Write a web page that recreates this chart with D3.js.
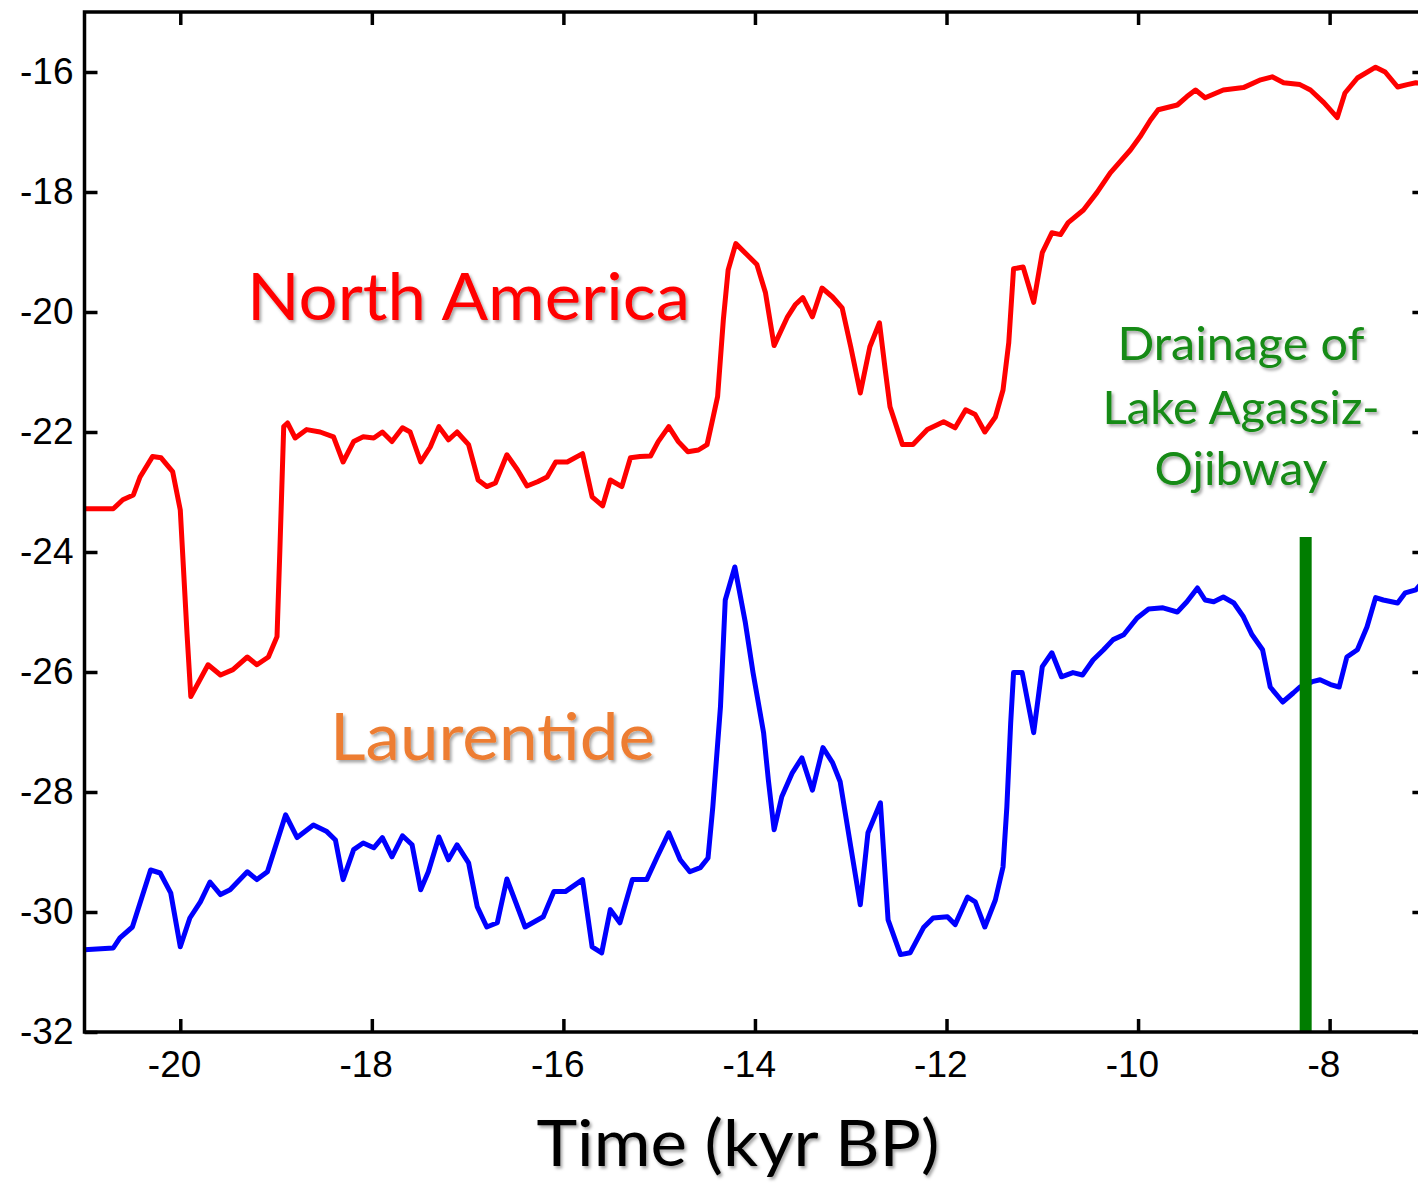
<!DOCTYPE html>
<html>
<head>
<meta charset="utf-8">
<script src="https://cdn.jsdelivr.net/npm/d3@7"></script>
<style>
  body { margin: 0; background: #fff; }
  .tick text { font-family: "Liberation Sans", Arial, sans-serif; font-size: 37px; fill: #000; }
  .axis line { stroke: #000; stroke-width: 3.5; }
  .axis path { display: none; }
  .line { fill: none; stroke-width: 5; stroke-linejoin: round; }
  .label { font-family: Lato, "Open Sans", sans-serif; }
</style>
</head>
<body>
<svg id="chart"></svg>
<script>
// time axis in kyr BP
var naTime=[-21.0,-20.7,-20.6,-20.49,-20.42,-20.29,-20.2,-20.08,-20.0,-19.93,-19.89,-19.71,-19.58,-19.45,-19.3,-19.2,-19.08,-18.99,-18.96,-18.92,-18.88,-18.8,-18.68,-18.54,-18.4,-18.3,-18.19,-18.09,-17.98,-17.89,-17.79,-17.68,-17.6,-17.49,-17.39,-17.3,-17.2,-17.11,-16.99,-16.89,-16.8,-16.71,-16.59,-16.48,-16.38,-16.27,-16.17,-16.08,-15.96,-15.8,-15.7,-15.59,-15.51,-15.39,-15.3,-15.2,-15.09,-15.01,-14.9,-14.8,-14.7,-14.59,-14.5,-14.45,-14.39,-14.33,-14.28,-14.2,-14.08,-13.98,-13.89,-13.8,-13.66,-13.58,-13.5,-13.4,-13.3,-13.19,-13.09,-13.0,-12.9,-12.8,-12.7,-12.64,-12.59,-12.46,-12.35,-12.2,-12.03,-11.91,-11.8,-11.7,-11.6,-11.49,-11.41,-11.35,-11.3,-11.2,-11.09,-11.0,-10.9,-10.81,-10.73,-10.57,-10.43,-10.29,-10.08,-9.98,-9.87,-9.79,-9.59,-9.49,-9.4,-9.3,-9.11,-8.9,-8.72,-8.6,-8.48,-8.31,-8.2,-8.06,-7.92,-7.84,-7.71,-7.52,-7.42,-7.29,-7.19,-7.1,-7.0];
var naValue=[-23.28,-23.28,-23.13,-23.05,-22.75,-22.41,-22.43,-22.66,-23.3,-25.35,-26.41,-25.88,-26.05,-25.96,-25.75,-25.88,-25.75,-25.41,-23.96,-21.91,-21.85,-22.1,-21.96,-22.0,-22.08,-22.5,-22.16,-22.08,-22.1,-22.0,-22.16,-21.93,-22.0,-22.5,-22.25,-21.91,-22.13,-22.0,-22.21,-22.8,-22.91,-22.85,-22.38,-22.63,-22.9,-22.83,-22.75,-22.5,-22.5,-22.36,-23.08,-23.23,-22.8,-22.91,-22.43,-22.41,-22.4,-22.16,-21.91,-22.16,-22.33,-22.3,-22.21,-21.85,-21.41,-20.13,-19.3,-18.86,-19.05,-19.21,-19.68,-20.56,-20.08,-19.88,-19.76,-20.08,-19.6,-19.75,-19.93,-20.58,-21.35,-20.58,-20.18,-20.96,-21.58,-22.21,-22.21,-21.96,-21.83,-21.93,-21.63,-21.71,-22.0,-21.75,-21.3,-20.51,-19.28,-19.25,-19.84,-19.01,-18.68,-18.71,-18.51,-18.3,-18.01,-17.68,-17.3,-17.08,-16.8,-16.63,-16.55,-16.41,-16.3,-16.43,-16.3,-16.26,-16.13,-16.08,-16.18,-16.21,-16.3,-16.51,-16.76,-16.35,-16.1,-15.92,-16.0,-16.25,-16.21,-16.18,-16.2];

var ltTime=[-21.0,-20.7,-20.63,-20.5,-20.31,-20.21,-20.1,-20.0,-19.9,-19.79,-19.69,-19.58,-19.48,-19.3,-19.2,-19.09,-18.9,-18.78,-18.61,-18.47,-18.38,-18.3,-18.19,-18.09,-17.98,-17.89,-17.79,-17.68,-17.58,-17.49,-17.41,-17.3,-17.2,-17.11,-16.99,-16.9,-16.8,-16.69,-16.59,-16.4,-16.21,-16.1,-15.98,-15.8,-15.7,-15.6,-15.51,-15.41,-15.28,-15.13,-15.02,-14.9,-14.78,-14.68,-14.57,-14.49,-14.44,-14.36,-14.31,-14.21,-14.1,-14.02,-13.91,-13.86,-13.8,-13.72,-13.61,-13.51,-13.4,-13.29,-13.19,-13.11,-13.0,-12.9,-12.82,-12.69,-12.61,-12.48,-12.38,-12.24,-12.14,-11.99,-11.91,-11.78,-11.7,-11.6,-11.49,-11.41,-11.37,-11.33,-11.3,-11.21,-11.09,-11.0,-10.9,-10.8,-10.68,-10.58,-10.47,-10.36,-10.26,-10.15,-10.01,-9.89,-9.74,-9.59,-9.49,-9.38,-9.3,-9.21,-9.11,-9.0,-8.9,-8.81,-8.7,-8.62,-8.49,-8.38,-8.31,-8.18,-8.1,-7.99,-7.9,-7.82,-7.71,-7.61,-7.52,-7.44,-7.29,-7.21,-7.1,-7.0];
var ltValue=[-30.63,-30.6,-30.43,-30.25,-29.3,-29.35,-29.68,-30.58,-30.1,-29.83,-29.5,-29.71,-29.63,-29.33,-29.46,-29.33,-28.38,-28.76,-28.55,-28.66,-28.8,-29.46,-28.96,-28.85,-28.93,-28.76,-29.08,-28.73,-28.88,-29.63,-29.33,-28.75,-29.13,-28.88,-29.18,-29.91,-30.25,-30.18,-29.45,-30.25,-30.08,-29.66,-29.66,-29.46,-30.58,-30.68,-29.96,-30.18,-29.46,-29.46,-29.08,-28.68,-29.13,-29.33,-29.26,-29.1,-28.25,-26.58,-24.8,-24.25,-25.18,-26.01,-27.01,-27.8,-28.63,-28.08,-27.68,-27.43,-27.97,-27.26,-27.51,-27.83,-28.91,-29.88,-28.68,-28.18,-30.13,-30.71,-30.68,-30.26,-30.1,-30.08,-30.21,-29.75,-29.83,-30.25,-29.8,-29.25,-28.25,-26.85,-26.01,-26.01,-27.01,-25.91,-25.68,-26.08,-26.01,-26.05,-25.8,-25.63,-25.46,-25.38,-25.1,-24.95,-24.93,-25.0,-24.83,-24.6,-24.8,-24.83,-24.75,-24.85,-25.08,-25.38,-25.63,-26.25,-26.5,-26.35,-26.25,-26.16,-26.13,-26.21,-26.25,-25.75,-25.63,-25.25,-24.76,-24.8,-24.85,-24.68,-24.63,-24.45];

var xTicks=[-20,-18,-16,-14,-12,-10,-8];
var yTicks=[-32,-30,-28,-26,-24,-22,-20,-18,-16];
var drainageTime=-8.25, drainageTop=-23.75;

var width=1418, height=1184;
var svg=d3.select("#chart").attr("width",width).attr("height",height);

var x=d3.scaleLinear().domain([-21,-7]).range([84.5,1425.4]);
var y=d3.scaleLinear().domain([-32,-15]).range([1032,12]);

// soft shadow like the slide text
var shadow=svg.append("defs").append("filter").attr("id","shadow")
  .attr("x","-10%").attr("y","-20%").attr("width","130%").attr("height","150%");
shadow.append("feDropShadow").attr("dx",2).attr("dy",2.5).attr("stdDeviation",1.6)
  .attr("flood-color","#000").attr("flood-opacity",0.35);

var line=d3.line().x(function(d){return x(d[0]);}).y(function(d){return y(d[1]);});

svg.append("path").datum(d3.zip(naTime,naValue)).attr("class","line").attr("stroke","#f00").attr("d",line);
svg.append("path").datum(d3.zip(ltTime,ltValue)).attr("class","line").attr("stroke","#00f").attr("d",line);

// drainage event bar
svg.append("line")
  .attr("x1",x(drainageTime)).attr("x2",x(drainageTime))
  .attr("y1",y(-32)).attr("y2",y(drainageTop))
  .attr("stroke","#007d00").attr("stroke-width",12);

// frame
svg.append("rect").attr("x",x(-21)).attr("y",y(-15))
  .attr("width",x(-7)-x(-21)).attr("height",y(-32)-y(-15))
  .attr("fill","none").attr("stroke","#000").attr("stroke-width",3.5);

var fs=37;
var xAxis=svg.append("g").attr("class","axis").attr("transform","translate(0,"+y(-32)+")")
  .call(d3.axisBottom(x).tickValues(xTicks).tickSizeInner(-13).tickSizeOuter(0).tickPadding(19)
  .tickFormat(function(d){return String(d);}));
// digits centred on the tick, minus sign hanging to the left
xAxis.selectAll(".tick text").attr("text-anchor","end")
  .attr("dx",function(d){return (String(Math.abs(d)).length*0.556*fs/2)+"px";});

svg.append("g").attr("class","axis").attr("transform","translate(0,"+y(-15)+")")
  .call(d3.axisTop(x).tickValues(xTicks).tickSizeInner(-13).tickSizeOuter(0).tickFormat(""));

svg.append("g").attr("class","axis").attr("transform","translate("+x(-21)+",0)")
  .call(d3.axisLeft(y).tickValues(yTicks).tickSizeInner(-13).tickSizeOuter(0).tickPadding(11)
  .tickFormat(function(d){return String(d);}));

svg.append("g").attr("class","axis").attr("transform","translate("+x(-7)+",0)")
  .call(d3.axisRight(y).tickValues(yTicks).tickSizeInner(-13).tickSizeOuter(0).tickFormat(""));

// annotations
function label(txt,px,py,size,len,col,anchor){
  svg.append("text").attr("class","label").text(txt)
    .attr("x",px).attr("y",py).attr("font-size",size)
    .attr("textLength",len).attr("lengthAdjust","spacingAndGlyphs")
    .attr("text-anchor",anchor||"start").attr("fill",col)
    .attr("filter","url(#shadow)");
}
label("North America",247,320,65,443,"#f00");
label("Laurentide",330,760,65,325,"#ed7d31");
label("Drainage of",1241,360,46,247,"#138a13","middle");
label("Lake Agassiz-",1241,424,46,277,"#138a13","middle");
label("Ojibway",1241,485,46,173,"#138a13","middle");
label("Time (kyr BP)",738,1166,64,403,"#000","middle");
</script>
</body>
</html>
